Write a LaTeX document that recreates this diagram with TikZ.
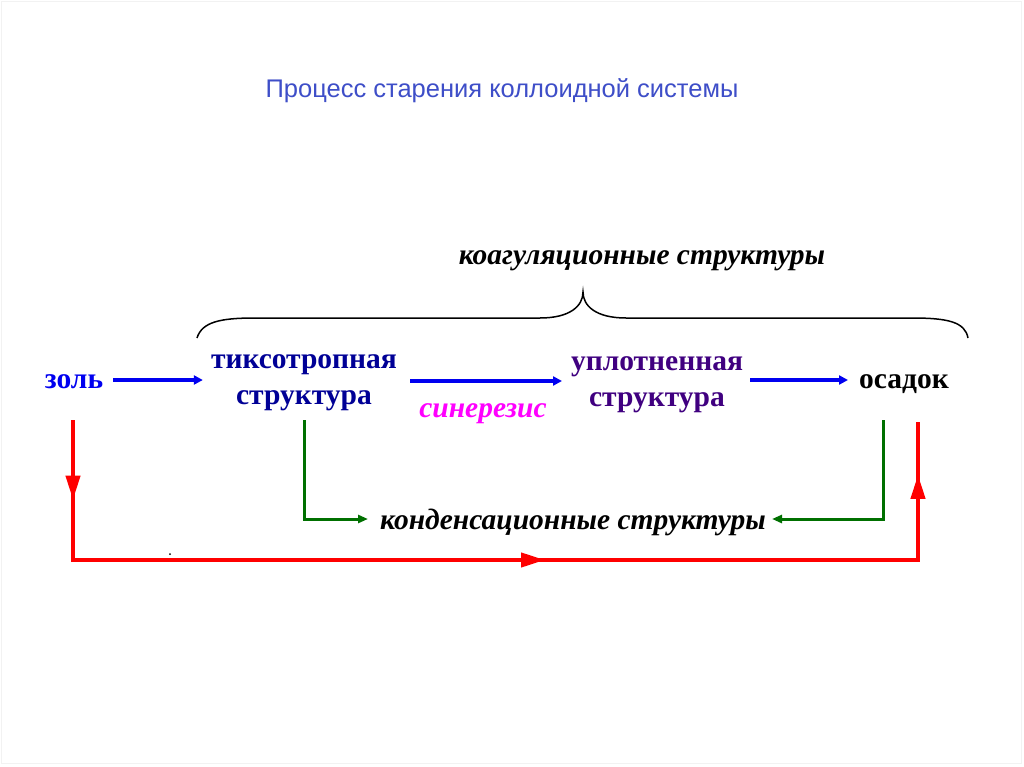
\documentclass[tikz,border=0pt]{standalone}
\usepackage{fontspec}
\setmainfont{Liberation Serif}
\newfontfamily\titlefont{Liberation Sans}
\usetikzlibrary{arrows.meta,decorations.markings}
\definecolor{titleblue}{RGB}{62,78,200}
\definecolor{navyt}{RGB}{0,0,150}
\definecolor{purplet}{RGB}{64,0,128}
\definecolor{darkgreen}{RGB}{0,112,0}
\definecolor{redline}{RGB}{255,0,0}
\definecolor{bluearrow}{RGB}{0,0,240}
\definecolor{magentat}{RGB}{255,0,255}
\tikzset{
  lbl/.style={inner sep=0pt, font=\fontsize{29.5}{36}\selectfont\bfseries, align=center},
  itl/.style={inner sep=0pt, font=\fontsize{29.5}{36}\selectfont\bfseries\itshape},
  bluearr/.style={draw=bluearrow, line width=4pt, -{Triangle[length=9pt,width=9pt]}},
  greenline/.style={draw=darkgreen, line width=3pt, -{Triangle[length=10pt,width=8pt]}},
  redloop/.style={draw=redline, line width=4pt,
    postaction={decorate},
    decoration={markings,
      mark=at position 0.071 with {\arrow{Triangle[length=24pt,width=14pt]}},
      mark=at position 0.545 with {\arrow{Triangle[length=24pt,width=14pt]}},
      mark=at position 0.953 with {\arrow{Triangle[length=24pt,width=14pt]}}}},
}
\begin{document}
\begin{tikzpicture}[x=1pt,y=-1pt]
\useasboundingbox (0,0) rectangle (1024,767);
\fill[white] (0,0) rectangle (1024,767);
\draw[gray!10, line width=1pt] (1.5,1.5) rectangle (1021,763);

\node[inner sep=0pt, font=\titlefont\fontsize{25.5}{30}\selectfont, text=titleblue] (title) at (502,91) {Процесс старения коллоидной системы};

\node[itl] (coag) at (642,261) {коагуляционные структуры};
\node[inner sep=0pt] (bracetip) at (583,292) {};
\draw[black, line width=1.5pt] (197,338) .. controls (202,322) and (220,318) .. (255,318) -- (540,318)
  .. controls (570,318) and (583,306) .. (bracetip.center)
  .. controls (583,306) and (596,318) .. (626,318) -- (912,318)
  .. controls (948,318) and (965,322) .. (968,338);

\node[lbl, text=bluearrow] (zol) at (74,382) {золь};
\node[lbl, text=navyt] (tix) at (304,383) {тиксотропная\\структура};
\node[lbl, text=purplet] (upl) at (657,385) {уплотненная\\структура};
\node[lbl, text=black] (osad) at (904,384) {осадок};
\node[itl, text=magentat] (sin) at (483,414) {синерезис};
\node[itl, text=black] (cond) at (573,522) {конденсационные структуры};

\draw[bluearr] (113,380) coordinate (z1) -- ([xshift=-8pt]z1 -| tix.west);
\draw[bluearr] (410,381) coordinate (t1) -- (562,381) coordinate (t2);
\draw[bluearr] (750,380) coordinate (u1) -- (848,380) coordinate (u2);

\coordinate (gL) at (304,420);
\coordinate (gR) at (883,420);
\draw[greenline] (gL) |- ([xshift=-12pt,yshift=3pt]cond.west);
\draw[greenline] (gR) |- ([xshift=6pt,yshift=3pt]cond.east);

\coordinate (rA) at (73,420);
\coordinate (rB) at (918,422);
\draw[redloop] (rA) -- (73,560) -- (918,560) -- (rB);

\fill[black] (170,554) circle (1pt);
\end{tikzpicture}
\end{document}
